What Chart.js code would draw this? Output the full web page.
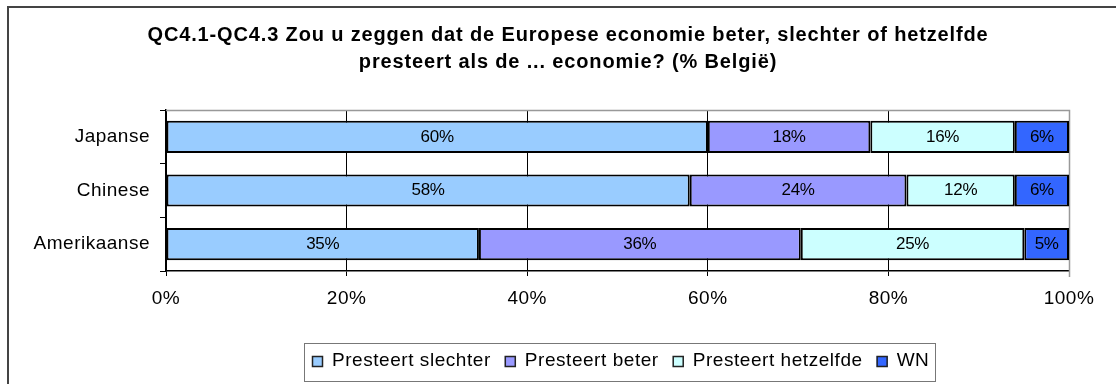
<!DOCTYPE html>
<html>
<head>
<meta charset="utf-8">
<script src="https://cdn.jsdelivr.net/npm/chart.js@4"></script>
<style>
  html, body { margin: 0; padding: 0; background: #fff; }
  #wrap { width: 1116px; height: 384px; }
</style>
</head>
<body>
<div id="wrap"><canvas id="economyChart" width="1116" height="384"></canvas></div>
<script>
const categories = ["Japanse", "Chinese", "Amerikaanse"];
const seriesNames = ["Presteert slechter", "Presteert beter", "Presteert hetzelfde", "WN"];
const slechter = [60, 58, 35];
const beter = [18, 24, 36];
const hetzelfde = [16, 12, 25];
const wn = [6, 6, 5];
const xTicks = [0, 20, 40, 60, 80, 100];
const colors = ["#99CCFF", "#9999FF", "#CCFFFF", "#3366FF"];
const titleLines = [
  "QC4.1-QC4.3 Zou u zeggen dat de Europese economie beter, slechter of hetzelfde",
  "presteert als de ... economie? (% België)",
];

const FONT = "'Liberation Sans', Arial, sans-serif";
const raw = [slechter, beter, hetzelfde, wn];

// each row is scaled to 100% of its own total
const rowTotals = categories.map((c, i) => raw.reduce((s, arr) => s + arr[i], 0));

const datasets = raw.map((arr, k) => ({
  label: seriesNames[k],
  data: arr.map((v, i) => (v / rowTotals[i]) * 100),
  rawValues: arr,
  backgroundColor: colors[k],
  borderColor: "#000",
  borderWidth: 2,
  borderSkipped: false,
  barPercentage: 0.6,
  categoryPercentage: 1,
}));

// background, outer frame, plot border, title and boxed legend
const decor = {
  id: "decor",
  beforeDraw(chart) {
    const c = chart.ctx;
    c.fillStyle = "#fff";
    c.fillRect(0, 0, chart.width, chart.height);
    c.strokeStyle = "#444";
    c.lineWidth = 2;
    c.beginPath();
    c.moveTo(8, chart.height + 2);
    c.lineTo(8, 7);
    c.lineTo(chart.width + 2, 7);
    c.stroke();
    // slightly wider spacing for the axis text
    if ("letterSpacing" in c) c.letterSpacing = "0.5px";
  },
  beforeDatasetsDraw(chart) {
    const a = chart.chartArea;
    const c = chart.ctx;
    c.save();
    c.strokeStyle = "#999";
    c.lineWidth = 1.5;
    c.beginPath();
    c.moveTo(a.left, a.top + 0.5);
    c.lineTo(a.right + 0.5, a.top + 0.5);
    c.lineTo(a.right + 0.5, a.bottom + 6);
    c.stroke();
    c.restore();
  },
  afterDraw(chart) {
    const c = chart.ctx;
    c.save();
    // title
    c.fillStyle = "#000";
    c.textAlign = "center";
    c.textBaseline = "alphabetic";
    c.font = "bold 20px " + FONT;
    if ("letterSpacing" in c) c.letterSpacing = "0.85px";
    titleLines.forEach((t, i) => c.fillText(t, 568, 41 + i * 27));

    // legend
    c.font = "19px " + FONT;
    if ("letterSpacing" in c) c.letterSpacing = "0.55px";
    c.textAlign = "left";
    c.textBaseline = "middle";
    const box = 11, gapIn = 9, gapOut = 14;
    const items = chart.data.datasets.map(ds => ({
      text: ds.label,
      color: ds.backgroundColor,
      w: c.measureText(ds.label).width,
    }));
    const total = items.reduce((s, it) => s + box + gapIn + it.w, 0) + gapOut * (items.length - 1);
    let x = 312;
    const cy = 361;
    items.forEach(it => {
      c.fillStyle = it.color;
      c.fillRect(x, cy - 5, box, box);
      c.strokeStyle = "#222";
      c.lineWidth = 1.5;
      c.strokeRect(x + 0.5, cy - 4.5, box - 1, box - 1);
      c.fillStyle = "#000";
      c.fillText(it.text, x + box + gapIn, cy);
      x += box + gapIn + it.w + gapOut;
    });
    c.strokeStyle = "#777";
    c.lineWidth = 1;
    c.strokeRect(304.5, 343.5, Math.round(total + 14), 38);
    c.restore();
  },
};

// value labels in the middle of each segment
const valueLabels = {
  id: "valueLabels",
  afterDatasetsDraw(chart) {
    const c = chart.ctx;
    c.save();
    c.font = "17px " + FONT;
    if ("letterSpacing" in c) c.letterSpacing = "-0.3px";
    c.fillStyle = "#000";
    c.textAlign = "center";
    c.textBaseline = "middle";
    chart.data.datasets.forEach((ds, k) => {
      chart.getDatasetMeta(k).data.forEach((bar, i) => {
        const x = (bar.x + bar.base) / 2;
        c.fillText(ds.rawValues[i] + "%", x, bar.y);
      });
    });
    c.restore();
  },
};

const ctx = document.getElementById("economyChart").getContext("2d");
new Chart(ctx, {
  type: "bar",
  data: { labels: categories, datasets },
  options: {
    indexAxis: "y",
    responsive: false,
    animation: false,
    events: [],
    layout: { padding: { left: 0, right: 47, top: 110, bottom: 65 } },
    scales: {
      x: {
        stacked: true,
        min: 0,
        max: 100,
        afterBuildTicks(scale) {
          scale.ticks = xTicks.map(v => ({ value: v }));
        },
        afterFit(scale) { scale.height = 48; },
        ticks: {
          callback: v => v + "%",
          color: "#000",
          font: { family: FONT, size: 19 },
          padding: 11,
          maxRotation: 0,
        },
        grid: { color: "#000", lineWidth: 1, tickLength: 5 },
        border: { color: "#000", width: 1.5 },
      },
      y: {
        stacked: true,
        afterFit(scale) { scale.width = 166; },
        ticks: {
          color: "#000",
          font: { family: FONT, size: 19 },
          padding: 10,
        },
        grid: { drawOnChartArea: false, color: "#000", tickLength: 6 },
        border: { color: "#000", width: 1.5 },
      },
    },
    plugins: {
      title: { display: false },
      legend: { display: false },
      tooltip: { enabled: false },
    },
  },
  plugins: [decor, valueLabels],
});
</script>
</body>
</html>
